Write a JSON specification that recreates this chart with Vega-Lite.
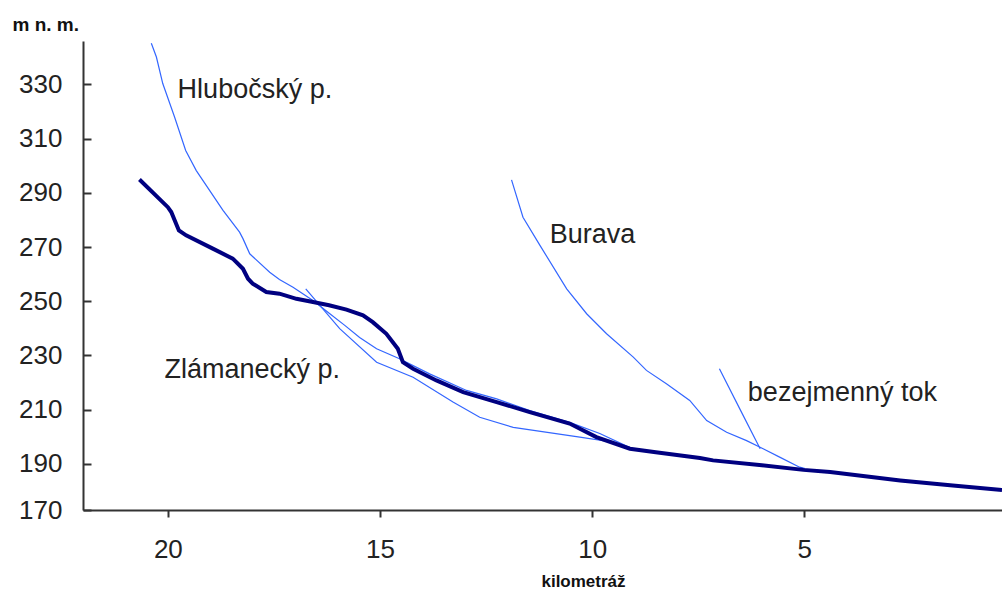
{
  "$schema": "https://vega.github.io/schema/vega-lite/v6.json",
  "width": 919,
  "height": 469,
  "autosize": "none",
  "padding": {"left": 83, "top": 41, "right": 0, "bottom": 82},
  "background": "white",
  "config": {"view": {"stroke": null}, "font": "Liberation Sans"},
  "datasets": {
    "profiles": [
      {"stream": "hlavní tok", "km": 20.67, "elev": 294.9},
      {"stream": "hlavní tok", "km": 20.0, "elev": 284.7},
      {"stream": "hlavní tok", "km": 19.92, "elev": 282.9},
      {"stream": "hlavní tok", "km": 19.74, "elev": 276.1},
      {"stream": "hlavní tok", "km": 19.57, "elev": 274.3},
      {"stream": "hlavní tok", "km": 18.94, "elev": 269.4},
      {"stream": "hlavní tok", "km": 18.47, "elev": 265.7},
      {"stream": "hlavní tok", "km": 18.23, "elev": 262.0},
      {"stream": "hlavní tok", "km": 18.11, "elev": 258.3},
      {"stream": "hlavní tok", "km": 18.0, "elev": 256.5},
      {"stream": "hlavní tok", "km": 17.68, "elev": 253.4},
      {"stream": "hlavní tok", "km": 17.37, "elev": 252.8},
      {"stream": "hlavní tok", "km": 16.97, "elev": 250.9},
      {"stream": "hlavní tok", "km": 16.58, "elev": 249.7},
      {"stream": "hlavní tok", "km": 16.2, "elev": 248.5},
      {"stream": "hlavní tok", "km": 15.79, "elev": 246.9},
      {"stream": "hlavní tok", "km": 15.4, "elev": 244.8},
      {"stream": "hlavní tok", "km": 15.17, "elev": 242.3},
      {"stream": "hlavní tok", "km": 14.85, "elev": 238.0},
      {"stream": "hlavní tok", "km": 14.58, "elev": 232.5},
      {"stream": "hlavní tok", "km": 14.46, "elev": 227.5},
      {"stream": "hlavní tok", "km": 14.22, "elev": 225.1},
      {"stream": "hlavní tok", "km": 13.67, "elev": 220.8},
      {"stream": "hlavní tok", "km": 13.04, "elev": 216.5},
      {"stream": "hlavní tok", "km": 12.25, "elev": 212.8},
      {"stream": "hlavní tok", "km": 11.47, "elev": 209.1},
      {"stream": "hlavní tok", "km": 10.53, "elev": 204.9},
      {"stream": "hlavní tok", "km": 9.9, "elev": 199.9},
      {"stream": "hlavní tok", "km": 9.11, "elev": 195.6},
      {"stream": "hlavní tok", "km": 8.5, "elev": 194.3},
      {"stream": "hlavní tok", "km": 7.46, "elev": 192.2},
      {"stream": "hlavní tok", "km": 7.15, "elev": 191.3},
      {"stream": "hlavní tok", "km": 6.0, "elev": 189.5},
      {"stream": "hlavní tok", "km": 5.02, "elev": 187.8},
      {"stream": "hlavní tok", "km": 4.39, "elev": 187.0},
      {"stream": "hlavní tok", "km": 2.74, "elev": 183.9},
      {"stream": "hlavní tok", "km": 1.5, "elev": 182.0},
      {"stream": "hlavní tok", "km": 0.34, "elev": 180.4},

      {"stream": "Hlubočský p.", "km": 20.39, "elev": 345.2},
      {"stream": "Hlubočský p.", "km": 20.27, "elev": 340.1},
      {"stream": "Hlubočský p.", "km": 20.12, "elev": 330.3},
      {"stream": "Hlubočský p.", "km": 19.84, "elev": 317.9},
      {"stream": "Hlubočský p.", "km": 19.58, "elev": 305.6},
      {"stream": "Hlubočský p.", "km": 19.33, "elev": 298.2},
      {"stream": "Hlubočský p.", "km": 18.7, "elev": 283.5},
      {"stream": "Hlubočský p.", "km": 18.31, "elev": 275.5},
      {"stream": "Hlubočský p.", "km": 18.23, "elev": 273.1},
      {"stream": "Hlubočský p.", "km": 18.07, "elev": 267.5},
      {"stream": "Hlubočský p.", "km": 17.6, "elev": 260.7},
      {"stream": "Hlubočský p.", "km": 17.37, "elev": 258.0},
      {"stream": "Hlubočský p.", "km": 17.05, "elev": 255.2},
      {"stream": "Hlubočský p.", "km": 16.58, "elev": 250.3},
      {"stream": "Hlubočský p.", "km": 16.19, "elev": 245.5},
      {"stream": "Hlubočský p.", "km": 15.83, "elev": 241.1},
      {"stream": "Hlubočský p.", "km": 15.48, "elev": 236.6},
      {"stream": "Hlubočský p.", "km": 15.08, "elev": 232.5},
      {"stream": "Hlubočský p.", "km": 14.54, "elev": 228.8},
      {"stream": "Hlubočský p.", "km": 13.83, "elev": 223.2},
      {"stream": "Hlubočský p.", "km": 12.96, "elev": 217.1},
      {"stream": "Hlubočský p.", "km": 12.25, "elev": 214.0},
      {"stream": "Hlubočský p.", "km": 11.47, "elev": 209.7},
      {"stream": "Hlubočský p.", "km": 10.53, "elev": 205.3},
      {"stream": "Hlubočský p.", "km": 9.82, "elev": 201.2},
      {"stream": "Hlubočský p.", "km": 9.11, "elev": 196.0},

      {"stream": "Zlámanecký p.", "km": 16.75, "elev": 254.6},
      {"stream": "Zlámanecký p.", "km": 15.95, "elev": 239.9},
      {"stream": "Zlámanecký p.", "km": 15.08, "elev": 227.5},
      {"stream": "Zlámanecký p.", "km": 14.22, "elev": 222.0},
      {"stream": "Zlámanecký p.", "km": 13.28, "elev": 212.8},
      {"stream": "Zlámanecký p.", "km": 12.65, "elev": 207.2},
      {"stream": "Zlámanecký p.", "km": 11.86, "elev": 203.5},
      {"stream": "Zlámanecký p.", "km": 10.29, "elev": 199.9},
      {"stream": "Zlámanecký p.", "km": 9.5, "elev": 198.0},
      {"stream": "Zlámanecký p.", "km": 9.11, "elev": 196.0},

      {"stream": "Burava", "km": 11.9, "elev": 294.8},
      {"stream": "Burava", "km": 11.63, "elev": 281.0},
      {"stream": "Burava", "km": 11.23, "elev": 270.6},
      {"stream": "Burava", "km": 10.6, "elev": 254.6},
      {"stream": "Burava", "km": 10.13, "elev": 245.4},
      {"stream": "Burava", "km": 9.66, "elev": 238.0},
      {"stream": "Burava", "km": 9.03, "elev": 229.4},
      {"stream": "Burava", "km": 8.72, "elev": 224.5},
      {"stream": "Burava", "km": 8.25, "elev": 219.6},
      {"stream": "Burava", "km": 7.7, "elev": 213.4},
      {"stream": "Burava", "km": 7.3, "elev": 206.0},
      {"stream": "Burava", "km": 6.83, "elev": 201.7},
      {"stream": "Burava", "km": 6.36, "elev": 198.6},
      {"stream": "Burava", "km": 5.97, "elev": 195.6},
      {"stream": "Burava", "km": 5.58, "elev": 192.5},
      {"stream": "Burava", "km": 5.11, "elev": 188.8},
      {"stream": "Burava", "km": 4.98, "elev": 188.3},

      {"stream": "bezejmenný tok", "km": 7.0, "elev": 225.1},
      {"stream": "bezejmenný tok", "km": 6.52, "elev": 210.3},
      {"stream": "bezejmenný tok", "km": 6.04, "elev": 195.6}
    ],
    "labels": [
      {"text": "Hlubočský p.", "km": 19.77, "elev": 327.8},
      {"text": "Burava", "km": 11.0, "elev": 274.3},
      {"text": "Zlámanecký p.", "km": 20.08, "elev": 224.5},
      {"text": "bezejmenný tok", "km": 6.33, "elev": 216.0}
    ]
  },
  "layer": [
    {
      "data": {"name": "profiles"},
      "transform": [{"filter": "datum.stream !== 'hlavní tok'"}],
      "mark": {"type": "line", "color": "#3366ff", "strokeWidth": 1.2},
      "encoding": {
        "x": {
          "field": "km", "type": "quantitative",
          "scale": {"domain": [22, 0.34], "nice": false, "zero": false},
          "axis": {
            "values": [20, 15, 10, 5],
            "grid": false,
            "domainColor": "#333", "domainWidth": 2,
            "tickColor": "#333", "tickWidth": 2, "tickSize": 7,
            "labelFontSize": 26, "labelColor": "#222", "labelPadding": 19,
            "labelFont": "Liberation Sans",
            "title": "kilometráž",
            "titleFontSize": 17, "titleFontWeight": "bold", "titleColor": "#111",
            "titleX": 500, "titleY": 76, "titleBaseline": "alphabetic", "titleAlign": "center", "titleAnchor": null
          }
        },
        "y": {
          "field": "elev", "type": "quantitative",
          "scale": {"domain": [173, 346], "nice": false, "zero": false},
          "axis": {
            "values": [173, 190, 210, 230, 250, 270, 290, 310, 330],
            "labelExpr": "datum.value < 180 ? '170' : datum.label",
            "grid": false,
            "domainColor": "#333", "domainWidth": 2,
            "tickColor": "#333", "tickWidth": 2, "tickSize": -8,
            "labelFontSize": 26, "labelColor": "#222", "labelPadding": 29,
            "labelFont": "Liberation Sans",
            "title": "m n. m.",
            "titleAngle": 0, "titleFontSize": 19, "titleFontWeight": "bold", "titleColor": "#111",
            "titleX": -71, "titleY": -11, "titleAlign": "left", "titleBaseline": "alphabetic", "titleAnchor": null
          }
        },
        "detail": {"field": "stream"}
      }
    },
    {
      "data": {"name": "profiles"},
      "transform": [{"filter": "datum.stream === 'hlavní tok'"}],
      "mark": {"type": "line", "color": "#000080", "strokeWidth": 4},
      "encoding": {
        "x": {"field": "km", "type": "quantitative"},
        "y": {"field": "elev", "type": "quantitative"}
      }
    },
    {
      "data": {"name": "labels"},
      "mark": {"type": "text", "align": "left", "baseline": "middle", "fontSize": 27, "color": "#222", "font": "Liberation Sans"},
      "encoding": {
        "x": {"field": "km", "type": "quantitative"},
        "y": {"field": "elev", "type": "quantitative"},
        "text": {"field": "text"}
      }
    }
  ]
}
